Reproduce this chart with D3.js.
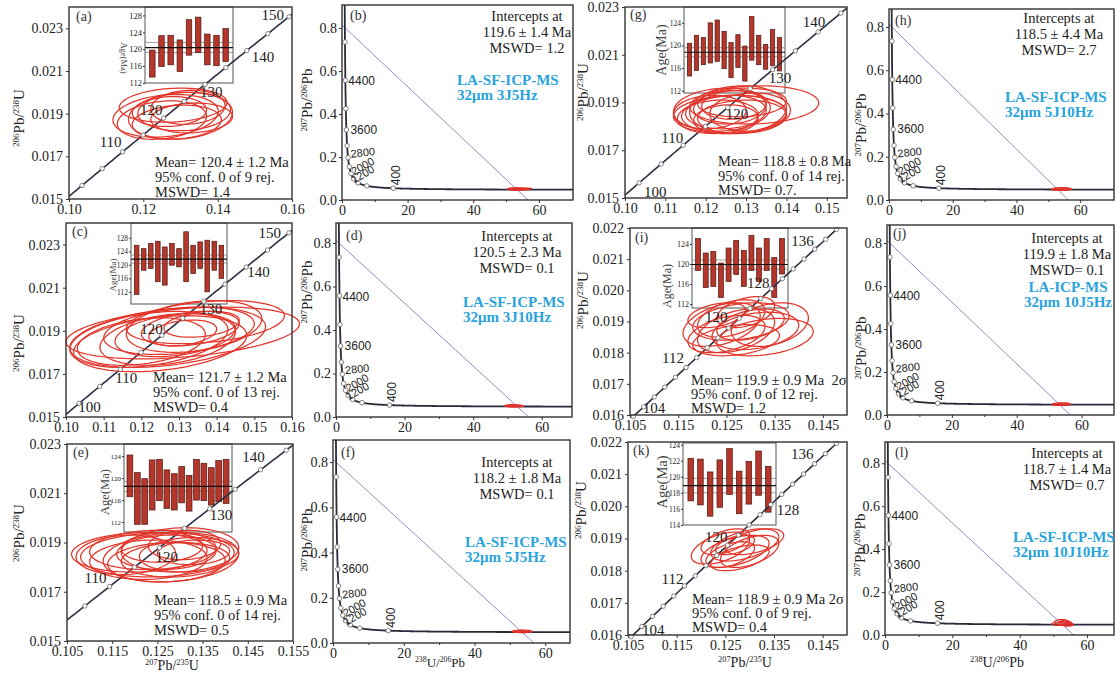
<!DOCTYPE html>
<html>
<head>
<meta charset="utf-8">
<script src="https://cdnjs.cloudflare.com/ajax/libs/d3/7.8.5/d3.min.js"></script>
<style>
  body { margin: 0; background: #fff; }
  svg { display: block; }
  text { white-space: pre; }
</style>
</head>
<body>
<svg id="chart" width="1115" height="674"></svg>
<script>
// ---- decay constants (Isoplot defaults) ----
var L238 = 1.55125e-10, L235 = 9.8485e-10, U_RATIO = 137.88;

// ---- Wetherill concordia panels: ellipses [x, y, 2s x, 2s y, rho] ----
var ellA = [[0.128,0.0194,0.0145,0.0008,0.15],[0.131,0.0191,0.0125,0.0009,0.10],[0.126,0.0189,0.0142,0.0010,0.20],
  [0.133,0.0188,0.0110,0.0007,0.10],[0.129,0.0186,0.0120,0.0008,0.15],[0.127,0.0191,0.0100,0.0007,0.10],
  [0.132,0.0193,0.0100,0.0008,0.10],[0.125,0.0187,0.0120,0.0009,0.20],[0.130,0.0189,0.0140,0.0011,0.15]];
var ellC = [[0.131,0.0189,0.031,0.0012,0.35],[0.127,0.0187,0.026,0.0014,0.35],[0.122,0.0186,0.021,0.0013,0.35],
  [0.125,0.0184,0.023,0.0013,0.30],[0.130,0.0190,0.020,0.0011,0.30],[0.134,0.0192,0.018,0.0012,0.30],
  [0.127,0.0186,0.018,0.0012,0.30],[0.133,0.0191,0.013,0.0008,0.30],[0.136,0.0193,0.010,0.0006,0.30],
  [0.131,0.0189,0.009,0.0006,0.30],[0.120,0.0185,0.017,0.0011,0.30],[0.129,0.0188,0.016,0.0010,0.30],
  [0.137,0.0194,0.021,0.0010,0.30]];
var ellE = [[0.121,0.0186,0.015,0.0008,0.10],[0.125,0.0185,0.017,0.0009,0.10],[0.128,0.0184,0.015,0.0010,0.15],
  [0.123,0.0183,0.013,0.0008,0.10],[0.130,0.0187,0.013,0.0009,0.10],[0.127,0.0186,0.011,0.0007,0.10],
  [0.126,0.0188,0.009,0.0006,0.10],[0.132,0.0185,0.011,0.0007,0.10],[0.118,0.0185,0.011,0.0008,0.10],
  [0.129,0.0183,0.012,0.0007,0.10],[0.124,0.0187,0.014,0.0008,0.10],[0.131,0.0189,0.008,0.0006,0.10],
  [0.127,0.0182,0.013,0.0008,0.10],[0.133,0.0186,0.008,0.0005,0.10]];
var ellG = [[0.132,0.0189,0.016,0.0008,0.10],[0.124,0.0187,0.012,0.0009,0.10],[0.127,0.0185,0.013,0.0008,0.10],
  [0.125,0.0186,0.010,0.0007,0.10],[0.129,0.0184,0.011,0.0007,0.10],[0.126,0.0188,0.009,0.0007,0.10],
  [0.128,0.0187,0.012,0.0010,0.10],[0.123,0.0184,0.010,0.0007,0.10],[0.131,0.0186,0.010,0.0008,0.10],
  [0.125,0.0183,0.008,0.0006,0.10],[0.127,0.0189,0.008,0.0006,0.10],[0.121,0.0186,0.009,0.0007,0.10],
  [0.129,0.0190,0.011,0.0006,0.10],[0.126,0.0185,0.014,0.0008,0.10]];
var ellI = [[0.126,0.0191,0.007,0.0006,0.4],[0.129,0.0193,0.006,0.0005,0.4],[0.124,0.0189,0.008,0.0007,0.4],
  [0.131,0.0187,0.009,0.0006,0.3],[0.127,0.0187,0.008,0.0007,0.4],[0.133,0.0185,0.010,0.0006,0.3],
  [0.125,0.0186,0.008,0.0006,0.4],[0.128,0.0190,0.010,0.0006,0.3],[0.130,0.0189,0.007,0.0005,0.4],
  [0.123,0.0192,0.006,0.0004,0.4],[0.134,0.0189,0.008,0.0007,0.3],[0.127,0.0184,0.009,0.0005,0.3]];
var ellK = [[0.124,0.0187,0.006,0.0005,0.5],[0.127,0.0186,0.007,0.0005,0.5],[0.129,0.0188,0.007,0.0005,0.5],
  [0.126,0.0185,0.005,0.0004,0.5],[0.131,0.0189,0.006,0.0004,0.5],[0.128,0.0184,0.006,0.0004,0.5],
  [0.125,0.0189,0.005,0.0004,0.5],[0.130,0.0186,0.006,0.0005,0.5],[0.127,0.0188,0.004,0.0003,0.5]];

// ---- inset weighted-mean bars [low, high] (Ma) ----
var barsA = [[113.4,119.8],[115.9,123.2],[116.3,123.3],[114.7,122.2],[118.6,127.0],[119.2,127.6],[116.3,123.6],[116.1,123.3],[117.1,124.9]];
var barsC = [[111.2,125.8],[118.4,124.8],[118.9,126.3],[115.0,127.0],[114.0,125.3],[119.9,126.3],[119.4,124.8],
  [115.0,129.8],[117.4,125.8],[118.9,126.8],[112.0,127.3],[118.4,127.0],[116.0,125.8]];
var barsE = [[116.6,124.2],[111.6,121.0],[111.6,119.9],[114.2,123.3],[115.9,123.4],[114.5,121.5],[114.2,120.8],
  [115.5,122.1],[114.0,120.5],[116.0,123.4],[115.9,122.7],[115.1,121.9],[115.7,123.2],[115.4,123.4]];
var barsG = [[114.6,120.4],[115.6,121.8],[116.6,121.4],[116.9,124.0],[117.2,124.5],[115.9,122.5],[114.3,120.5],
  [116.1,121.9],[113.7,119.9],[117.4,125.1],[116.6,121.8],[115.8,120.2],[116.4,122.8],[115.5,121.4]];
var barsI = [[118.7,125.1],[115.3,122.2],[115.5,122.5],[113.3,120.2],[116.5,123.2],[117.9,124.7],[115.5,122.7],
  [118.7,125.7],[116.5,123.2],[118.7,125.1],[113.3,121.3],[118.0,125.1]];
var barsK = [[117.0,122.3],[116.5,122.2],[115.1,120.6],[116.2,122.1],[117.8,123.5],[115.4,120.7],[116.6,121.9],[117.7,123.2],[115.6,121.3]];

var meanA = [120.4, 1.2], meanC = [121.7, 1.2], meanE = [118.5, 0.9], meanG = [118.8, 0.8], meanI = [119.9, 0.9], meanK = [118.9, 0.9];

var statsA = ["Mean= 120.4 ± 1.2 Ma", "95% conf. 0 of 9 rej.", "MSWD= 1.4"];
var statsC = ["Mean= 121.7 ± 1.2 Ma", "95% conf. 0 of 13 rej.", "MSWD= 0.4"];
var statsE = ["Mean= 118.5 ± 0.9 Ma", "95% conf. 0 of 14 rej.", "MSWD= 0.5"];
var statsG = ["Mean= 118.8 ± 0.8 Ma", "95% conf. 0 of 14 rej.", "MSWD= 0.7."];
var statsI = ["Mean= 119.9 ± 0.9 Ma  2σ", "95% conf. 0 of 12 rej.", "MSWD= 1.2"];
var statsK = ["Mean= 118.9 ± 0.9 Ma 2σ", "95% conf. 0 of 9 rej.", "MSWD= 0.4"];

// concordia age markers and labelled ages (Ma)
var ages5 = [100, 105, 110, 115, 120, 125, 130, 135, 140, 145, 150];
var agesE = [105, 110, 115, 120, 125, 130, 135, 140, 145];
var ages2 = [102, 104, 106, 108, 110, 112, 114, 116, 118, 120, 122, 124, 126, 128, 130, 132, 134, 136, 138, 140];
var labelAgesA = [110, 120, 130, 140, 150];
var labelAgesC = [100, 110, 120, 130, 140, 150];
var labelAgesE = [110, 120, 130, 140];
var labelAgesG = [100, 110, 120, 130, 140];
var labelAgesIK = [104, 112, 120, 128, 136];

var xTicksA = [0.10, 0.12, 0.14, 0.16];
var xTicksC = [0.10, 0.11, 0.12, 0.13, 0.14, 0.15, 0.16];
var xTicksE = [0.105, 0.115, 0.125, 0.135, 0.145, 0.155];
var xTicksG = [0.10, 0.11, 0.12, 0.13, 0.14, 0.15];
var xTicksIK = [0.105, 0.115, 0.125, 0.135, 0.145];
var yTicks23 = [0.015, 0.017, 0.019, 0.021, 0.023];
var yTicks22 = [0.016, 0.017, 0.018, 0.019, 0.020, 0.021, 0.022];

// ---- Tera-Wasserburg panels ----
var ellB = [[53.5,0.052,3.0,0.004,0],[54.5,0.050,2.5,0.004,0],[52.5,0.051,2.0,0.005,0],[55.0,0.053,2.8,0.003,0],[53.8,0.049,2.2,0.004,0]];
var ellD = [[51.8,0.052,2.6,0.004,0],[52.5,0.050,2.2,0.004,0],[51.2,0.051,2.0,0.005,0]];
var ellF = [[53.6,0.052,2.6,0.005,0],[54.0,0.050,2.2,0.004,0],[53.0,0.051,2.4,0.005,0]];
var ellH = [[54.2,0.051,3.0,0.005,0],[53.5,0.049,2.5,0.004,0],[55.0,0.052,2.0,0.004,0],[54.0,0.050,2.8,0.006,0]];
var ellJ = [[53.8,0.050,2.8,0.006,0],[53.2,0.049,2.2,0.005,0],[54.5,0.051,2.0,0.005,0]];
var ellL = [[52.5,0.060,2.2,0.012,0],[53.5,0.055,2.0,0.010,0],[52.0,0.052,2.5,0.008,0],[54.0,0.050,1.8,0.008,0],
  [53.0,0.057,1.6,0.010,0],[54.5,0.048,1.5,0.006,0]];

// discordia: [207/206 intercept, 238/206 intercept]
var discB = [0.814, 56.7], discD = [0.812, 56.2], discF = [0.812, 56.8], discH = [0.812, 56.3], discJ = [0.812, 56.6], discL = [0.812, 56.0];

var interceptB = ["Intercepts at", "119.6 ± 1.4 Ma", "MSWD= 1.2"];
var interceptD = ["Intercepts at", "120.5 ± 2.3 Ma", "MSWD= 0.1"];
var interceptF = ["Intercepts at", "118.2 ± 1.8 Ma", "MSWD= 0.1"];
var interceptH = ["Intercepts at", "118.5 ± 4.4 Ma", "MSWD= 2.7"];
var interceptJ = ["Intercepts at", "119.9 ± 1.8 Ma", "MSWD= 0.1"];
var interceptL = ["Intercepts at", "118.7 ± 1.4 Ma", "MSWD= 0.7"];

var methodB = ["LA-SF-ICP-MS", "32μm 3J5Hz"];
var methodD = ["LA-SF-ICP-MS", "32μm 3J10Hz"];
var methodF = ["LA-SF-ICP-MS", "32μm 5J5Hz"];
var methodH = ["LA-SF-ICP-MS", "32μm 5J10Hz"];
var methodJ = ["LA-ICP-MS", "32μm 10J5Hz"];
var methodL = ["LA-SF-ICP-MS", "32μm 10J10Hz"];

var twAges = [400, 800, 1200, 1600, 2000, 2400, 2800, 3200, 3600, 4000, 4400, 4800];
var twLabelAges = [4400, 3600, 2800, 2000, 1200, 400];
var twXTicks = [0, 20, 40, 60];
var twYTicks = [0, 0.2, 0.4, 0.6, 0.8];

var isoWY = ["206", "Pb/", "238", "U"];
var isoWX = ["207", "Pb/", "235", "U"];
var isoTWY = ["207", "Pb/", "206", "Pb"];
var isoTWX = ["238", "U/", "206", "Pb"];

// ---------------------------------------------------------------
var SERIF = "'Liberation Serif','Times New Roman',serif";
var SANS = "'Liberation Sans',Arial,sans-serif";
var svg = d3.select("#chart");
var defs = svg.append("defs");

function wPoint(t) {
    return [Math.exp(L235 * t * 1e6) - 1, Math.exp(L238 * t * 1e6) - 1];
}
function twPoint(t) {
    var r68 = Math.exp(L238 * t * 1e6) - 1, r75 = Math.exp(L235 * t * 1e6) - 1;
    return [1 / r68, r75 / r68 / U_RATIO];
}

function styleAxis(sel, size) {
    sel.select(".domain").remove();
    sel.selectAll("line").attr("stroke", "#333");
    sel.selectAll("text").style("font-family", SERIF).style("font-size", size + "px").attr("fill", "#222");
}

function isoLabel(x, y, rot, parts, size) {
    var t = svg.append("text")
        .attr("transform", "translate(" + x + "," + y + ") rotate(" + rot + ")")
        .attr("text-anchor", "middle")
        .style("font-family", SERIF)
        .style("font-size", size + "px")
        .attr("fill", "#222");
    parts.forEach(function (p, i) {
        var sup = i % 2 === 0;
        t.append("tspan")
            .attr("dy", sup ? -size * 0.36 : size * 0.36)
            .style("font-size", (sup ? size * 0.6 : size) + "px")
            .text(p);
    });
}

function ellipsePath(e, x, y) {
    var r = Math.sqrt(1 - e[4] * e[4]);
    var pts = d3.range(0, 360, 6).map(function (a) {
        var th = a * Math.PI / 180;
        return [x(e[0] + e[2] * Math.cos(th)), y(e[1] + e[3] * (e[4] * Math.cos(th) + r * Math.sin(th)))];
    });
    return d3.line().curve(d3.curveLinearClosed)(pts);
}

function frame(g, box) {
    g.append("rect")
        .attr("x", box[0]).attr("y", box[1])
        .attr("width", box[2] - box[0]).attr("height", box[3] - box[1])
        .attr("fill", "none").attr("stroke", "#333").attr("stroke-width", 1.4);
}

function clipFor(id, box) {
    defs.append("clipPath").attr("id", "clip-" + id).append("rect")
        .attr("x", box[0]).attr("y", box[1])
        .attr("width", box[2] - box[0]).attr("height", box[3] - box[1]);
    return "url(#clip-" + id + ")";
}

// ---------------- Wetherill concordia panels ----------------
var concLayout = [
    { id: "a", box: [69, 7, 292, 199], xd: [0.10, 0.16], yd: [0.015, 0.024], xt: xTicksA, xf: ".2f", yt: yTicks23,
      ell: ellA, ages: ages5, labAges: labelAgesA,
      labOff: [[-1, -5, "end"], [-1, -3, "end"], [-5, 13, "start"], [5, 11, "start"], [-5, 3, "end"]],
      bars: barsA, mean: meanA, inset: { box: [145, 7, 233, 83], yd: [112, 130], ticks: [112, 116, 120, 124, 128], fs: 8.5, barW: 5.5, title: [121, 58, 90, 8.5] },
      stats: statsA, statsPos: [155, 167, 15], ytitle: [24, 118], letter: [76, 21] },
    { id: "c", box: [66, 223, 292, 417], xd: [0.10, 0.16], yd: [0.015, 0.024], xt: xTicksC, xf: ".2f", yt: yTicks23,
      ell: ellC, ages: ages5, labAges: labelAgesC,
      labOff: [[-1, 9, "start"], [-5, 14, "start"], [1, -1, "end"], [-4, 13, "start"], [1, 10, "start"], [-8, 5, "end"]],
      bars: barsC, mean: meanC, inset: { box: [131, 223, 227, 304], yd: [108.4, 132.4], ticks: [112, 116, 120, 124, 128], fs: 7.5, barW: 4.6, title: [116, 275, -90, 9] },
      stats: statsC, statsPos: [153, 382, 15], ytitle: [24, 343], letter: [72, 236] },
    { id: "e", box: [67, 444, 293, 641], xd: [0.105, 0.155], yd: [0.015, 0.023], xt: xTicksE, xf: ".3f", yt: yTicks23,
      ell: ellE, ages: agesE, labAges: labelAgesE,
      labOff: [[-3, -4, "end"], [-4, 14, "start"], [0, 11, "start"], [-7, -8, "middle"]],
      bars: barsE, mean: meanE, inset: { box: [124, 444, 232, 532], yd: [110.2, 126.2], ticks: [112, 116, 120, 124], fs: 7, barW: 5.8, title: [109, 492, -90, 12.5] },
      stats: statsE, statsPos: [154, 605, 15], ytitle: [24, 533], letter: [73, 457] },
    { id: "g", box: [625, 7, 847, 198], xd: [0.10, 0.155], yd: [0.015, 0.023], xt: xTicksG, xf: ".2f", yt: yTicks23,
      ell: ellG, ages: ages5.slice(0, 10), labAges: labelAgesG,
      labOff: [[5, 14, "start"], [0, -2, "end"], [-2, 11, "start"], [-4, 13, "start"], [-4, -5, "middle"]],
      bars: barsG, mean: meanG, inset: { box: [684, 7, 785, 93], yd: [111.6, 126.8], ticks: [112, 116, 120, 124], fs: 7.5, barW: 4.3, title: [666, 50, -90, 14] },
      stats: statsG, statsPos: [718, 166, 14.5], ytitle: [588, 92], letter: [630, 19] },
    { id: "i", box: [630, 228, 847, 415], xd: [0.105, 0.150], yd: [0.016, 0.022], xt: xTicksIK, xf: ".3f", yt: yTicks22,
      ell: ellI, ages: ages2, labAges: labelAgesIK,
      labOff: [[-1, 6, "start"], [-2, -4, "end"], [-1, -6, "end"], [-2, -1, "end"], [-1, -3, "end"]],
      bars: barsI, mean: meanI, inset: { box: [692, 228, 788, 308], yd: [111.2, 127.2], ticks: [112, 116, 120, 124], fs: 8, barW: 5, title: [671, 286, -90, 12] },
      stats: statsI, statsPos: [691, 385, 14], ytitle: [588, 300], letter: [635, 242] },
    { id: "k", box: [628, 442, 847, 635], xd: [0.105, 0.150], yd: [0.016, 0.022], xt: xTicksIK, xf: ".3f", yt: yTicks22,
      ell: ellK, ages: ages2, labAges: labelAgesIK,
      labOff: [[0, 8, "start"], [-1, -2, "end"], [0, -3, "end"], [6, 10, "start"], [-1, -5, "end"]],
      bars: barsK, mean: meanK, inset: { box: [683, 443, 776, 525], yd: [114, 124.2], ticks: [114, 116, 118, 120, 122, 124], fs: 7.5, barW: 5.6, title: [667, 482, -90, 14.5] },
      stats: statsK, statsPos: [692, 604, 14], ytitle: [586, 510], letter: [633, 455] }
];

function drawConcordia(p) {
    var g = svg.append("g");
    var x = d3.scaleLinear().domain(p.xd).range([p.box[0], p.box[2]]);
    var y = d3.scaleLinear().domain(p.yd).range([p.box[3], p.box[1]]);
    var clip = clipFor(p.id, p.box);

    g.append("g").attr("transform", "translate(0," + p.box[3] + ")")
        .call(d3.axisBottom(x).tickValues(p.xt).tickFormat(d3.format(p.xf)).tickSize(3).tickPadding(2))
        .call(styleAxis, 14);
    g.append("g").attr("transform", "translate(" + p.box[0] + ",0)")
        .call(d3.axisLeft(y).tickValues(p.yt).tickFormat(d3.format(".3f")).tickSize(3).tickPadding(3))
        .call(styleAxis, 14);

    // inset with weighted mean ages
    var ins = p.inset;
    var iy = d3.scaleLinear().domain(ins.yd).range([ins.box[3], ins.box[1]]);
    var ix = d3.scalePoint().domain(d3.range(p.bars.length)).range([ins.box[0], ins.box[2]]).padding(0.8);
    g.append("rect")
        .attr("x", ins.box[0]).attr("y", ins.box[1])
        .attr("width", ins.box[2] - ins.box[0]).attr("height", ins.box[3] - ins.box[1])
        .attr("fill", "none").attr("stroke", "#555").attr("stroke-width", 1);
    [p.mean[0] - p.mean[1], p.mean[0] + p.mean[1]].forEach(function (v) {
        g.append("line").attr("x1", ins.box[0]).attr("x2", ins.box[2])
            .attr("y1", iy(v)).attr("y2", iy(v)).attr("stroke", "#888").attr("stroke-width", 0.8);
    });
    g.selectAll(".bar-" + p.id)
        .data(p.bars)
        .enter()
        .append("rect")
        .attr("x", function (d, i) { return ix(i) - ins.barW / 2; })
        .attr("y", function (d) { return iy(d[1]); })
        .attr("width", ins.barW)
        .attr("height", function (d) { return iy(d[0]) - iy(d[1]); })
        .attr("fill", "#b5362b").attr("stroke", "#4d1610").attr("stroke-width", 0.7);
    g.append("line").attr("x1", ins.box[0]).attr("x2", ins.box[2])
        .attr("y1", iy(p.mean[0])).attr("y2", iy(p.mean[0])).attr("stroke", "#111").attr("stroke-width", 1.2);
    g.append("g").attr("transform", "translate(" + ins.box[0] + ",0)")
        .call(d3.axisLeft(iy).tickValues(ins.ticks).tickFormat(d3.format("d")).tickSize(2).tickPadding(1))
        .call(styleAxis, ins.fs);
    g.append("text")
        .attr("transform", "translate(" + ins.title[0] + "," + ins.title[1] + ") rotate(" + ins.title[2] + ")")
        .attr("text-anchor", "middle")
        .style("font-family", SERIF).style("font-size", ins.title[3] + "px").attr("fill", "#444")
        .text("Age(Ma)");

    // concordia curve
    var curve = d3.range(90, 160, 0.5).map(wPoint);
    g.append("path")
        .attr("d", d3.line().x(function (d) { return x(d[0]); }).y(function (d) { return y(d[1]); })(curve))
        .attr("clip-path", clip)
        .attr("fill", "none").attr("stroke", "#2e2e44").attr("stroke-width", 1.6);

    // error ellipses
    g.selectAll(".ell-" + p.id)
        .data(p.ell)
        .enter()
        .append("path")
        .attr("d", function (d) { return ellipsePath(d, x, y); })
        .attr("fill", "none").attr("stroke", "#e2362b").attr("stroke-width", 1.25);

    g.selectAll(".mk-" + p.id)
        .data(p.ages.map(wPoint))
        .enter()
        .append("circle")
        .attr("cx", function (d) { return x(d[0]); })
        .attr("cy", function (d) { return y(d[1]); })
        .attr("r", 2.2)
        .attr("fill", "#fff").attr("stroke", "#666").attr("stroke-width", 0.8);

    p.labAges.forEach(function (a, i) {
        var pt = wPoint(a), off = p.labOff[i];
        g.append("text")
            .attr("x", x(pt[0]) + off[0]).attr("y", y(pt[1]) + off[1])
            .attr("text-anchor", off[2])
            .style("font-family", SERIF).style("font-size", "15px").attr("fill", "#222")
            .text(a);
    });

    frame(g, p.box);

    p.stats.forEach(function (s, i) {
        g.append("text")
            .attr("x", p.statsPos[0]).attr("y", p.statsPos[1] + i * p.statsPos[2])
            .style("font-family", SERIF).style("font-size", "14.5px").attr("fill", "#222")
            .text(s);
    });

    g.append("text").attr("x", p.letter[0]).attr("y", p.letter[1])
        .style("font-family", SERIF).style("font-size", "14px").attr("fill", "#333")
        .text("(" + p.id + ")");

    isoLabel(p.ytitle[0], p.ytitle[1], -90, isoWY, 15);
}

// ---------------- Tera-Wasserburg panels ----------------
var twLayout = [
    { id: "b", box: [342, 5, 573, 200], xMax: 70.4, yMax: 0.907, disc: discB, ell: ellB, inter: interceptB, method: methodB,
      interPos: [527, 21], methodPos: [457, 85, "start"], letter: [350, 20], ytitle: [312, 100], fill: 0.45 },
    { id: "d", box: [336, 223, 572, 417], xMax: 68.8, yMax: 0.892, disc: discD, ell: ellD, inter: interceptD, method: methodD,
      interPos: [517, 241], methodPos: [463, 307, "start"], letter: [346, 240], ytitle: [312, 292], fill: 0.45 },
    { id: "f", box: [333, 440, 570, 643], xMax: 67, yMax: 0.898, disc: discF, ell: ellF, inter: interceptF, method: methodF,
      interPos: [517, 467], methodPos: [465, 547, "start"], letter: [341, 457], ytitle: [312, 540], fill: 0.45 },
    { id: "h", box: [889, 9, 1114, 200], xMax: 70.6, yMax: 0.883, disc: discH, ell: ellH, inter: interceptH, method: methodH,
      interPos: [1059, 23], methodPos: [1005, 102, "start"], letter: [895, 25], ytitle: [866, 125], fill: 0.45 },
    { id: "j", box: [887, 225, 1114, 415], xMax: 70, yMax: 0.884, disc: discJ, ell: ellJ, inter: interceptJ, method: methodJ,
      interPos: [1067, 243], methodPos: [1068, 292, "middle"], letter: [893, 238], ytitle: [866, 348], fill: 0.6 },
    { id: "l", box: [885, 442, 1114, 635], xMax: 68, yMax: 0.899, disc: discL, ell: ellL, inter: interceptL, method: methodL,
      interPos: [1067, 458], methodPos: [1013, 542, "start"], letter: [895, 457], ytitle: [865, 545], fill: 0.08 }
];

// label offsets for the TW age labels: [dx, dy, rotation]
var twLabOff = [[3, 5, 0], [4, 4, 0], [3, 0, -6], [3, 2, -30], [-4, 1, -30], [6.5, -3, -90]];

function drawTW(p) {
    var g = svg.append("g");
    var x = d3.scaleLinear().domain([0, p.xMax]).range([p.box[0], p.box[2]]);
    var y = d3.scaleLinear().domain([0, p.yMax]).range([p.box[3], p.box[1]]);
    var clip = clipFor(p.id, p.box);

    g.append("g").attr("transform", "translate(0," + p.box[3] + ")")
        .call(d3.axisBottom(x).tickValues([10, 30, 50]).tickFormat("").tickSize(2))
        .call(styleAxis, 14);
    g.append("g").attr("transform", "translate(0," + p.box[3] + ")")
        .call(d3.axisBottom(x).tickValues(twXTicks).tickFormat(d3.format("d")).tickSize(3).tickPadding(2))
        .call(styleAxis, 14);
    g.append("g").attr("transform", "translate(" + p.box[0] + ",0)")
        .call(d3.axisLeft(y).tickValues(twYTicks).tickFormat(d3.format(".1f")).tickSize(3).tickPadding(2))
        .call(styleAxis, 14);

    var line = d3.line().x(function (d) { return x(d[0]); }).y(function (d) { return y(d[1]); });

    // discordia
    g.append("path")
        .attr("d", line([[0, p.disc[0]], [p.disc[1], 0]]))
        .attr("clip-path", clip)
        .attr("fill", "none").attr("stroke", "#8e8ecc").attr("stroke-width", 1);

    // concordia curve
    var curve = d3.range(88, 5600, 4).map(twPoint);
    g.append("path")
        .attr("d", line(curve))
        .attr("clip-path", clip)
        .attr("fill", "none").attr("stroke", "#2a2a3a").attr("stroke-width", 1.8);

    g.selectAll(".tel-" + p.id)
        .data(p.ell)
        .enter()
        .append("path")
        .attr("d", function (d) { return ellipsePath(d, x, y); })
        .attr("fill", "#e8402f").attr("fill-opacity", p.fill)
        .attr("stroke", "#e0302a").attr("stroke-width", 1.1);

    g.selectAll(".tmk-" + p.id)
        .data(twAges.map(twPoint))
        .enter()
        .append("circle")
        .attr("cx", function (d) { return x(d[0]); })
        .attr("cy", function (d) { return y(d[1]); })
        .attr("r", 2.3)
        .attr("fill", "#fff").attr("stroke", "#666").attr("stroke-width", 0.8);

    twLabelAges.forEach(function (a, i) {
        var pt = twPoint(a), off = twLabOff[i];
        g.append("text")
            .attr("transform", "translate(" + (x(pt[0]) + off[0]) + "," + (y(pt[1]) + off[1]) + ") rotate(" + off[2] + ")")
            .style("font-family", SANS).style("font-size", i >= 2 && i <= 4 ? "11px" : "12px").attr("fill", "#222")
            .text(a);
    });

    frame(g, p.box);

    p.inter.forEach(function (s, i) {
        g.append("text")
            .attr("x", p.interPos[0]).attr("y", p.interPos[1] + i * 16)
            .attr("text-anchor", "middle")
            .style("font-family", SERIF).style("font-size", "14.5px").attr("fill", "#222")
            .text(s);
    });
    p.method.forEach(function (s, i) {
        g.append("text")
            .attr("x", p.methodPos[0]).attr("y", p.methodPos[1] + i * 15)
            .attr("text-anchor", p.methodPos[2])
            .style("font-family", SERIF).style("font-size", "15px").style("font-weight", "bold")
            .attr("fill", "#2aa3dc")
            .text(s);
    });

    g.append("text").attr("x", p.letter[0]).attr("y", p.letter[1])
        .style("font-family", SERIF).style("font-size", "14px").attr("fill", "#333")
        .text("(" + p.id + ")");

    isoLabel(p.ytitle[0], p.ytitle[1], -90, isoTWY, 15);
}

concLayout.forEach(drawConcordia);
twLayout.forEach(drawTW);

// bottom axis titles
isoLabel(172, 670, 0, isoWX, 14);
isoLabel(745, 667, 0, isoWX, 14);
isoLabel(440, 667, 0, isoTWX, 13);
isoLabel(997, 667, 0, isoTWX, 14);
</script>
</body>
</html>
